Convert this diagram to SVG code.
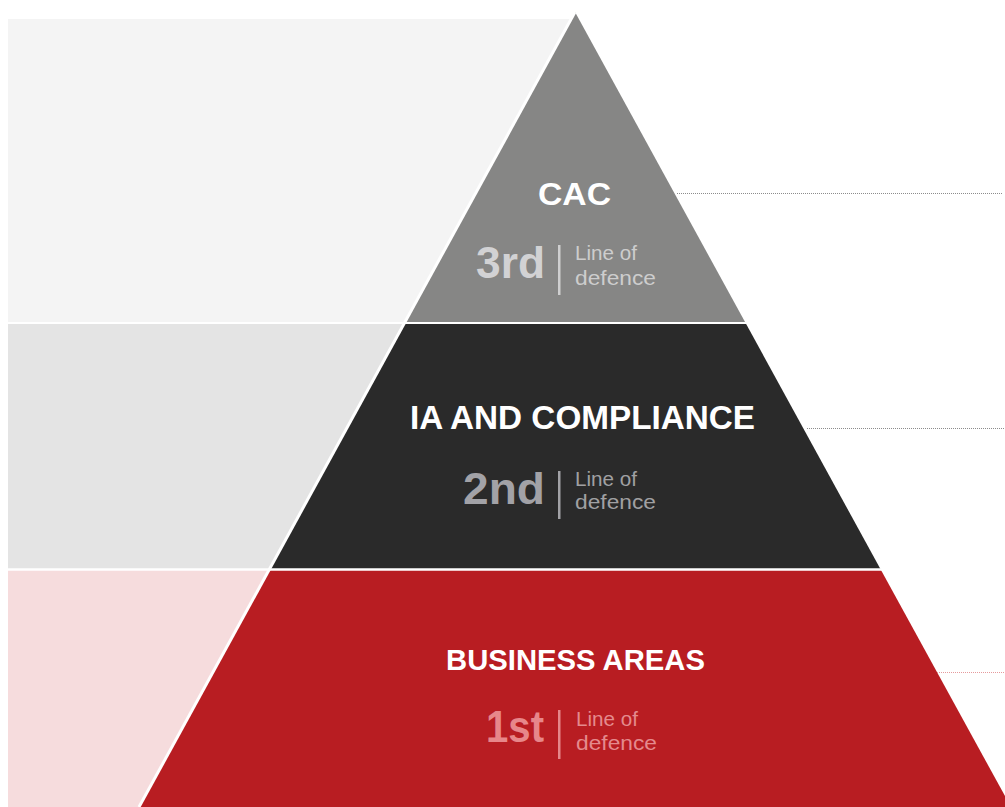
<svg xmlns="http://www.w3.org/2000/svg" width="1005" height="807" viewBox="0 0 1005 807">
<style>
.title{font-family:"Liberation Sans",Arial,sans-serif;font-weight:bold;fill:#ffffff;text-anchor:middle}
.num{font-family:"Liberation Sans",Arial,sans-serif;font-weight:bold;font-size:44px;text-anchor:end}
.lod{font-family:"Liberation Sans",Arial,sans-serif;font-size:20px}
.lead{fill:none;stroke-width:1;stroke-dasharray:1 1}
.sep{stroke:#ffffff;fill:none}
</style>
<rect width="1005" height="807" fill="#ffffff"/>
<g id="panels">
<polygon points="8,19 571.2,19 404.4,323 8,323" fill="#f4f4f4"/>
<polygon points="8,323 404.4,323 269.3,569.5 8,569.5" fill="#e4e4e4"/>
<polygon points="8,569.5 269.3,569.5 139,807 8,807" fill="#f6dcdd"/>
</g>
<g id="tier-cac">
<polygon points="575,12 745.6,323 404.4,323" fill="#868685"/>
<text class="title" x="574.5" y="205" font-size="31" textLength="73" lengthAdjust="spacingAndGlyphs">CAC</text>
<text class="num" x="545" y="278" fill="#d2d2d4" textLength="69" lengthAdjust="spacingAndGlyphs">3rd</text>
<rect x="558" y="245" width="2.5" height="50" fill="#cfcfd0"/>
<text class="lod" x="575" y="260" fill="#cdcdcd" textLength="62" lengthAdjust="spacingAndGlyphs">Line of</text>
<text class="lod" x="575" y="285" fill="#cdcdcd" textLength="81" lengthAdjust="spacingAndGlyphs">defence</text>
</g>
<g id="tier-ia">
<polygon points="404.4,323 745.6,323 880.7,569.5 269.3,569.5" fill="#2a2a2a"/>
<text class="title" x="582.5" y="429" font-size="32.5" textLength="345" lengthAdjust="spacingAndGlyphs">IA AND COMPLIANCE</text>
<text class="num" x="545" y="504" fill="#a2a2a7" textLength="82" lengthAdjust="spacingAndGlyphs">2nd</text>
<rect x="558" y="471" width="2.5" height="48" fill="#a2a2a6"/>
<text class="lod" x="575" y="486" fill="#a0a0a2" textLength="62" lengthAdjust="spacingAndGlyphs">Line of</text>
<text class="lod" x="575" y="509" fill="#a0a0a2" textLength="81" lengthAdjust="spacingAndGlyphs">defence</text>
</g>
<g id="tier-business">
<polygon points="269.3,569.5 880.7,569.5 1011,807 139,807" fill="#b81d22"/>
<text class="title" x="575.5" y="670" font-size="29.5" textLength="259" lengthAdjust="spacingAndGlyphs">BUSINESS AREAS</text>
<text class="num" x="544" y="742" fill="#e7878a" textLength="58" lengthAdjust="spacingAndGlyphs">1st</text>
<rect x="558" y="710" width="2.5" height="49" fill="#e5878a"/>
<text class="lod" x="576" y="726" fill="#e48a8d" textLength="62" lengthAdjust="spacingAndGlyphs">Line of</text>
<text class="lod" x="576" y="750" fill="#e48a8d" textLength="81" lengthAdjust="spacingAndGlyphs">defence</text>
</g>
<g id="separators">
<line class="sep" x1="8" y1="323" x2="1005" y2="323" stroke-width="2.2"/>
<line class="sep" x1="8" y1="569.5" x2="1005" y2="569.5" stroke-width="2.5"/>
<line class="sep" x1="575" y1="12" x2="139" y2="807" stroke-width="3"/>
</g>
<g id="connectors">
<line class="lead" x1="677" y1="193.5" x2="1003" y2="193.5" stroke="#8c8c8c"/>
<line class="lead" x1="807" y1="428.5" x2="1005" y2="428.5" stroke="#8c8c8c"/>
<line class="lead" x1="937" y1="672.5" x2="1005" y2="672.5" stroke="#e59a9c"/>
</g>
</svg>
